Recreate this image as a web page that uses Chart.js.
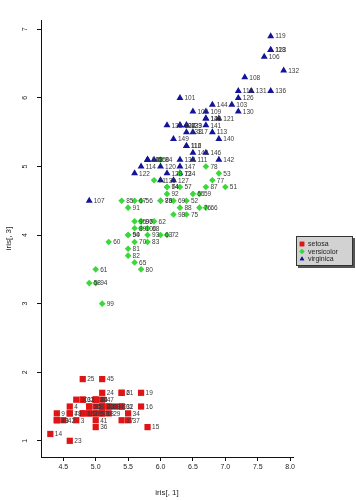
<!DOCTYPE html>
<html><head><meta charset="utf-8">
<script src="https://cdn.jsdelivr.net/npm/chart.js@4/dist/chart.umd.min.js"></script>
<style>html,body{margin:0;padding:0;background:#fff}#wrap{width:356px;height:500px;position:relative}</style>
</head><body><div id="wrap"><canvas id="c" width="356" height="500"></canvas></div>
<script>
const speciesNames = ['setosa', 'versicolor', 'virginica'];
const setosaX = [5.1,4.9,4.7,4.6,5.0,5.4,4.6,5.0,4.4,4.9,5.4,4.8,4.8,4.3,5.8,5.7,5.4,5.1,5.7,5.1,5.4,5.1,4.6,5.1,4.8,5.0,5.0,5.2,5.2,4.7,4.8,5.4,5.2,5.5,4.9,5.0,5.5,4.9,4.4,5.1,5.0,4.5,4.4,5.0,5.1,4.8,5.1,4.6,5.3,5.0];
const setosaY = [1.4,1.4,1.3,1.5,1.4,1.7,1.4,1.5,1.4,1.5,1.5,1.6,1.4,1.1,1.2,1.5,1.3,1.4,1.7,1.5,1.7,1.5,1.0,1.7,1.9,1.6,1.6,1.5,1.4,1.6,1.6,1.5,1.5,1.4,1.5,1.2,1.3,1.4,1.3,1.5,1.3,1.3,1.3,1.6,1.9,1.4,1.6,1.4,1.5,1.4];
const versicolorX = [7.0,6.4,6.9,5.5,6.5,5.7,6.3,4.9,6.6,5.2,5.0,5.9,6.0,6.1,5.6,6.7,5.6,5.8,6.2,5.6,5.9,6.1,6.3,6.1,6.4,6.6,6.8,6.7,6.0,5.7,5.5,5.5,5.8,6.0,5.4,6.0,6.7,6.3,5.6,5.5,5.5,6.1,5.8,5.0,5.6,5.7,5.7,6.2,5.1,5.7];
const versicolorY = [4.7,4.5,4.9,4.0,4.6,4.5,4.7,3.3,4.6,3.9,3.5,4.2,4.0,4.7,3.6,4.4,4.5,4.1,4.5,3.9,4.8,4.0,4.9,4.7,4.3,4.4,4.8,5.0,4.5,3.5,3.8,3.7,3.9,5.1,4.5,4.5,4.7,4.4,4.1,4.0,4.4,4.6,4.0,3.3,4.2,4.2,4.2,4.3,3.0,4.1];
const virginicaX = [6.3,5.8,7.1,6.3,6.5,7.6,4.9,7.3,6.7,7.2,6.5,6.4,6.8,5.7,5.8,6.4,6.5,7.7,7.7,6.0,6.9,5.6,7.7,6.3,6.7,7.2,6.2,6.1,6.4,7.2,7.4,7.9,6.4,6.3,6.1,7.7,6.3,6.4,6.0,6.9,6.7,6.9,5.8,6.8,6.7,6.7,6.3,6.5,6.2,5.9];
const virginicaY = [6.0,5.1,5.9,5.6,5.8,6.6,4.5,6.3,5.8,6.1,5.1,5.3,5.5,5.0,5.1,5.3,5.5,6.7,6.9,5.0,5.7,4.9,6.7,4.9,5.7,6.0,4.8,4.9,5.6,5.8,6.1,6.4,5.6,5.1,5.6,6.1,5.6,5.5,4.8,5.4,5.6,5.1,5.1,5.9,5.7,5.2,5.0,5.2,5.4,5.1];
const rowStart = [1, 51, 101];
const xTicks = [4.5, 5.0, 5.5, 6.0, 6.5, 7.0, 7.5, 8.0];
const xTickLabels = ['4.5', '5.0', '5.5', '6.0', '6.5', '7.0', '7.5', '8.0'];
const yTicks = [1, 2, 3, 4, 5, 6, 7];
const yTickLabels = ['1', '2', '3', '4', '5', '6', '7'];
const xTitle = 'iris[, 1]';
const yTitle = 'iris[, 3]';

const colors = ['#e01414', '#3ad83a', '#14149a'];
const styles = ['rect', 'rectRot', 'triangle'];
const radii = [4.4, 3.3, 4.0];

function pts(xs, ys, start) {
  return xs.map((x, i) => ({ x: x, y: ys[i], id: String(start + i) }));
}
const allX = [setosaX, versicolorX, virginicaX];
const allY = [setosaY, versicolorY, virginicaY];

const datasets = speciesNames.map((n, k) => ({
  label: n,
  data: pts(allX[k], allY[k], rowStart[k]),
  pointStyle: styles[k],
  pointRadius: radii[k],
  pointHoverRadius: radii[k],
  backgroundColor: colors[k],
  borderColor: colors[k],
  borderWidth: 0
}));

const pointLabels = {
  id: 'pointLabels',
  afterDatasetsDraw(chart) {
    const ctx = chart.ctx;
    ctx.save();
    ctx.font = '6.5px "Liberation Sans", Arial, sans-serif';
    ctx.fillStyle = '#3a3a3a';
    ctx.textAlign = 'left';
    ctx.textBaseline = 'middle';
    chart.data.datasets.forEach((ds, k) => {
      const meta = chart.getDatasetMeta(k);
      meta.data.forEach((el, i) => {
        ctx.fillText(ds.data[i].id, el.x + 4.5, el.y + 0.5);
      });
    });
    ctx.restore();
  }
};

const boxLegend = {
  id: 'boxLegend',
  afterDraw(chart) {
    const ctx = chart.ctx;
    const L = 296, T = 236, W = 57, H = 30;
    ctx.save();
    ctx.fillStyle = '#555';
    ctx.fillRect(L + 2, T + 2, W, H);
    ctx.fillStyle = '#d2d2d2';
    ctx.fillRect(L, T, W, H);
    ctx.strokeStyle = '#333';
    ctx.lineWidth = 1;
    ctx.strokeRect(L + 0.5, T + 0.5, W - 1, H - 1);
    ctx.font = '7px "Liberation Sans", Arial, sans-serif';
    ctx.textAlign = 'left';
    ctx.textBaseline = 'middle';
    speciesNames.forEach((n, k) => {
      const y = T + 8 + k * 7.5;
      ctx.fillStyle = colors[k];
      Chart.helpers.drawPoint(ctx, { pointStyle: styles[k], radius: k === 0 ? 3.2 : 2.6, rotation: 0, borderWidth: 0 }, L + 6, y);
      ctx.fill();
      ctx.fillStyle = '#222';
      ctx.fillText(n, L + 12, y + 0.5);
    });
    ctx.restore();
  }
};

new Chart(document.getElementById('c'), {
  type: 'scatter',
  data: { datasets: datasets },
  plugins: [pointLabels, boxLegend],
  options: {
    responsive: false,
    animation: false,
    events: [],
    layout: { padding: { left: 0, right: 63, top: 20, bottom: 0 } },
    plugins: { legend: { display: false }, tooltip: { enabled: false } },
    scales: {
      x: {
        type: 'linear',
        min: 4.156, max: 8.044,
        afterBuildTicks(s) { s.ticks = xTicks.map(v => ({ value: v })); },
        afterFit(s) { s.height = 43; },
        ticks: {
          callback: (v) => xTickLabels[xTicks.indexOf(v)] ?? '',
          font: { size: 7, family: '"Liberation Sans", Arial, sans-serif' },
          color: '#222', padding: 2, maxRotation: 0, minRotation: 0, autoSkip: false
        },
        grid: { drawOnChartArea: false, tickLength: 4, color: '#111' },
        border: { display: true, color: '#111', width: 1 },
        title: { display: true, text: xTitle, font: { size: 8, family: '"Liberation Sans", Arial, sans-serif' }, color: '#222', padding: { top: 2, bottom: 2 } }
      },
      y: {
        type: 'linear',
        min: 0.764, max: 7.136,
        afterBuildTicks(s) { s.ticks = yTicks.map(v => ({ value: v })); },
        afterFit(s) { s.width = 41; },
        ticks: {
          callback: (v) => yTickLabels[yTicks.indexOf(v)] ?? '',
          font: { size: 7, family: '"Liberation Sans", Arial, sans-serif' },
          color: '#222', padding: 10, minRotation: 90, maxRotation: 90, crossAlign: 'center', autoSkip: false
        },
        grid: { drawOnChartArea: false, tickLength: 4, color: '#111' },
        border: { display: true, color: '#111', width: 1 },
        title: { display: true, text: yTitle, font: { size: 8, family: '"Liberation Sans", Arial, sans-serif' }, color: '#222', padding: { top: 4, bottom: 2 } }
      }
    }
  }
});
</script></body></html>
